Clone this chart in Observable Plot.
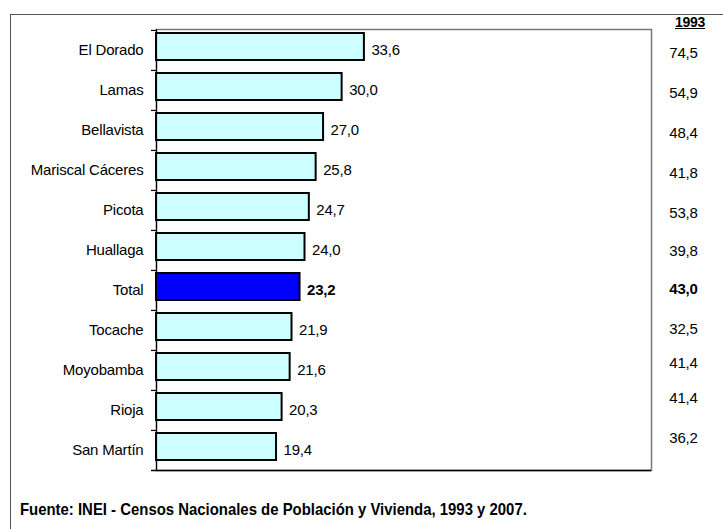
<!DOCTYPE html>
<html>
<head>
<meta charset="utf-8">
<script src="https://cdn.jsdelivr.net/npm/d3@7"></script>
<script src="https://cdn.jsdelivr.net/npm/@observablehq/plot@0.6"></script>
<style>
  html, body { margin: 0; padding: 0; background: #fff; overflow: hidden; width: 723px; height: 529px; }
  #wrap { position: relative; width: 723px; height: 529px; }
  #outer { position: absolute; left: 10px; top: 14px; width: 900px; height: 700px; border: 1.5px solid #555; box-sizing: border-box; }
  #chart { position: absolute; left: 0; top: 0; }
  #hdr { position: absolute; left: 675px; top: 14px; font: bold 14px "Liberation Sans", Arial, sans-serif; text-decoration: underline; letter-spacing: -0.3px; }
  #src { position: absolute; left: 20px; top: 500px; font: bold 17px "Liberation Sans", Arial, sans-serif; white-space: nowrap; transform: scaleX(0.877); transform-origin: 0 0; }
</style>
</head>
<body>
<div id="wrap">
  <div id="outer"></div>
  <div id="chart"></div>
  <div id="hdr"></div>
  <div id="src"></div>
</div>
<script>
const categories = ["El Dorado", "Lamas", "Bellavista", "Mariscal Cáceres", "Picota", "Huallaga", "Total", "Tocache", "Moyobamba", "Rioja", "San Martín"];
const values2007 = [33.6, 30.0, 27.0, 25.8, 24.7, 24.0, 23.2, 21.9, 21.6, 20.3, 19.4];
const values1993 = [74.5, 54.9, 48.4, 41.8, 53.8, 39.8, 43.0, 32.5, 41.4, 41.4, 36.2];
const highlight = "Total";
const columnHeader = "1993";
const source = "Fuente: INEI - Censos Nacionales de Población y Vivienda, 1993 y 2007.";

const data = categories.map((c, i) => ({cat: c, v2007: values2007[i], v1993: values1993[i], i}));
const fmt = v => d3.format(".1f")(v).replace(".", ",");
const isHi = d => d.cat === highlight;

// slight vertical offsets of the 1993 column, as in the original table
const groups1993 = [
  {from: 0, to: 4, dy: 3},
  {from: 5, to: 5, dy: 1},
  {from: 6, to: 7, dy: -1},
  {from: 8, to: 8, dy: -7},
  {from: 9, to: 10, dy: -12}
];

const marginTop = 29, marginBottom = 59;
const step = (529 - marginTop - marginBottom) / categories.length;

const marks = [
  Plot.frame({stroke: "#777", strokeWidth: 1.5}),
  Plot.barX(data.filter(d => !isHi(d)), {x: "v2007", y: "cat", fill: "#CCFFFF", stroke: "black", strokeWidth: 2, insetTop: 3, insetBottom: 10}),
  Plot.barX(data.filter(isHi), {x: "v2007", y: "cat", fill: "#0000FF", stroke: "black", strokeWidth: 2, insetTop: 3, insetBottom: 10}),
  Plot.ruleX([0], {stroke: "black", strokeWidth: 1.2}),
  Plot.ruleY(categories, {y: d => d, x1: -0.8, x2: 0, dy: -step / 2, stroke: "black", strokeWidth: 1.2}),
  Plot.ruleY([categories[categories.length - 1]], {y: d => d, x1: -0.8, x2: 80, dy: step / 2, stroke: "black", strokeWidth: 1.5}),
  Plot.text(data.filter(d => !isHi(d)), {x: "v2007", y: "cat", text: d => fmt(d.v2007), textAnchor: "start", dx: 7, fill: "black"}),
  Plot.text(data.filter(isHi), {x: "v2007", y: "cat", text: d => fmt(d.v2007), textAnchor: "start", dx: 7, fill: "black", fontWeight: "bold"})
];
for (const g of groups1993) {
  const sub = data.filter(d => d.i >= g.from && d.i <= g.to);
  marks.push(Plot.text(sub.filter(d => !isHi(d)), {y: "cat", frameAnchor: "right", dx: 32, dy: g.dy, text: d => fmt(d.v1993), textAnchor: "middle", fill: "black"}));
  marks.push(Plot.text(sub.filter(isHi), {y: "cat", frameAnchor: "right", dx: 32, dy: g.dy, text: d => fmt(d.v1993), textAnchor: "middle", fill: "black", fontWeight: "bold"}));
}

const chart = Plot.plot({
  width: 723,
  height: 529,
  marginLeft: 156,
  marginRight: 72,
  marginTop,
  marginBottom,
  style: {fontFamily: "'Liberation Sans', Arial, sans-serif", fontSize: "15px", letterSpacing: "-0.2px", background: "transparent", color: "black"},
  x: {domain: [0, 80], axis: null},
  y: {domain: categories, padding: 0, tickSize: 0, tickPadding: 13, label: null},
  marks
});
document.getElementById("chart").appendChild(chart);
document.getElementById("hdr").textContent = columnHeader;
document.getElementById("src").textContent = source;
</script>
</body>
</html>
